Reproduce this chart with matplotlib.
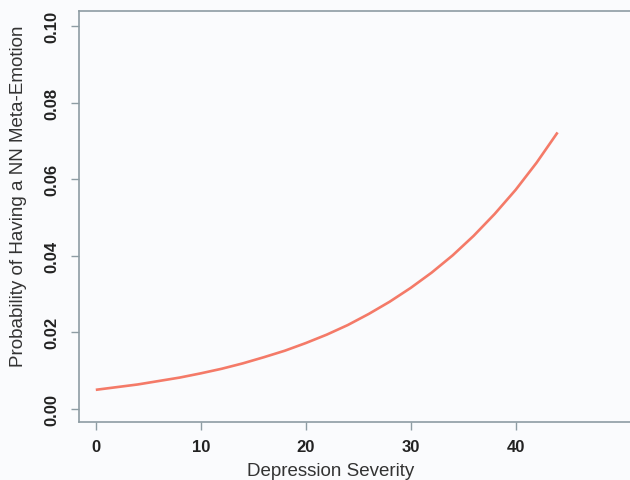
import matplotlib
matplotlib.use("Agg")
import matplotlib.pyplot as plt
import numpy as np

# values
severity = [0, 2, 4, 6, 8, 10, 12, 14, 16, 18, 20, 22,
            24, 26, 28, 30, 32, 34, 36, 38, 40, 42, 44]
prob = [0.0050, 0.0057, 0.0064, 0.0073, 0.0082, 0.0093, 0.0105, 0.0119,
        0.0135, 0.0152, 0.0172, 0.0194, 0.0219, 0.0248, 0.0280, 0.0316,
        0.0356, 0.0401, 0.0452, 0.0509, 0.0572, 0.0643, 0.0722]
xticks = [0, 10, 20, 30, 40]
yticks = [0.00, 0.02, 0.04, 0.06, 0.08, 0.10]

plt.rcParams['font.family'] = ['Liberation Sans', 'DejaVu Sans']
bg = '#fafbfd'
frame = '#8d9ca3'

fig = plt.figure(figsize=(6.3, 4.81), dpi=100)
fig.patch.set_facecolor(bg)
ax = fig.add_axes([0.1254, 0.1206, 0.8746, 0.8544])
ax.set_facecolor(bg)

ax.plot(severity, prob, color='#f47a68', lw=1.9, solid_capstyle='butt')

ax.set_xlim(-1.6, 50.9)
ax.set_ylim(-0.0034, 0.1039)
ax.set_xticks(xticks)
ax.set_xticklabels([str(t) for t in xticks])
ax.set_yticks(yticks)
ax.set_yticklabels(['%.2f' % t for t in yticks], rotation=90, va='center')

for s in ['left', 'bottom', 'top']:
    ax.spines[s].set_color(frame)
    ax.spines[s].set_linewidth(1.2)
ax.spines['right'].set_visible(False)

ax.tick_params(axis='both', direction='out', length=6, width=1.0, color=frame,
               labelsize=12, labelcolor='#222222')
ax.tick_params(axis='x', pad=6)
ax.tick_params(axis='y', pad=8)
for lab in ax.get_xticklabels() + ax.get_yticklabels():
    lab.set_fontweight('bold')

ax.set_xlabel('Depression Severity', fontsize=13.5, color='#333333')
ax.set_ylabel('Probability of Having a NN Meta-Emotion', fontsize=13.5, color='#333333')
ax.xaxis.set_label_coords((331 - 79) / 551, -(463 - 423) / 411)
ax.yaxis.set_label_coords(-(79 - 27) / 551, (423 - 196) / 411)

fig.savefig('out.png', dpi=100, facecolor=bg)
